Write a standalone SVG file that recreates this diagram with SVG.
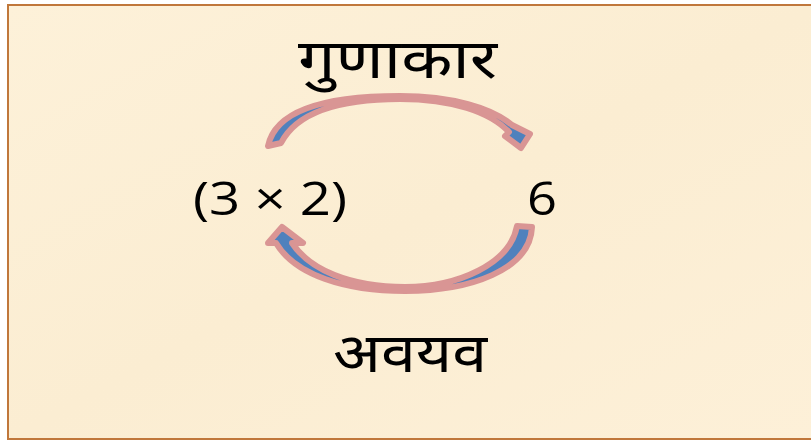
<svg xmlns="http://www.w3.org/2000/svg" width="811" height="442" viewBox="0 0 811 442">
<style>
.num{font-family:"Open Sans","Liberation Sans",sans-serif;font-size:46px;fill:#000}
.dev{font-family:"Noto Sans Devanagari","Lohit Devanagari","Mangal","Noto Sans",sans-serif;font-size:54px;fill:#000}
.arr{fill:#4f81bd;stroke:#d99594;stroke-width:6;stroke-linejoin:round}
</style>
<defs>
<linearGradient id="bg" x1="0" y1="0" x2="1" y2="1">
<stop offset="0" stop-color="#fdf1d9"/>
<stop offset="0.5" stop-color="#fbedd2"/>
<stop offset="1" stop-color="#fdf0d8"/>
</linearGradient>
</defs>
<rect x="0" y="0" width="811" height="442" fill="#ffffff"/>
<rect id="frame" x="8" y="5" width="810" height="434" fill="url(#bg)" stroke="#c0773b" stroke-width="2"/>
<g id="connectors">
<path id="arrow-top" class="arr" d="M268,146 C276,108 330,96 400,96 C452,96 492,108 512,125 L530,134 L521,148 L505,136 L509,132 C490,112 452,99 400,99 C345,99 298,110 281,143 Z"/>
<path id="arrow-bottom" class="arr" d="M532,227 C530,270 470,291 405,291 C345,291 295,275 276,243 L268,243 L282,227 L303,243 L292,243 C310,270 350,287 405,287 C458,287 510,264 517,226 Z"/>
</g>
<g id="node-top"><text class="dev" x="298" y="78" textLength="199" lengthAdjust="spacingAndGlyphs">गुणाकार</text></g>
<g id="node-left"><text class="num" x="193" y="215" textLength="154" lengthAdjust="spacingAndGlyphs">(3 × 2)</text></g>
<g id="node-right"><text class="num" x="527" y="215" textLength="30" lengthAdjust="spacingAndGlyphs">6</text></g>
<g id="node-bottom"><text class="dev" x="333" y="372" textLength="154" lengthAdjust="spacingAndGlyphs">अवयव</text></g>
</svg>
